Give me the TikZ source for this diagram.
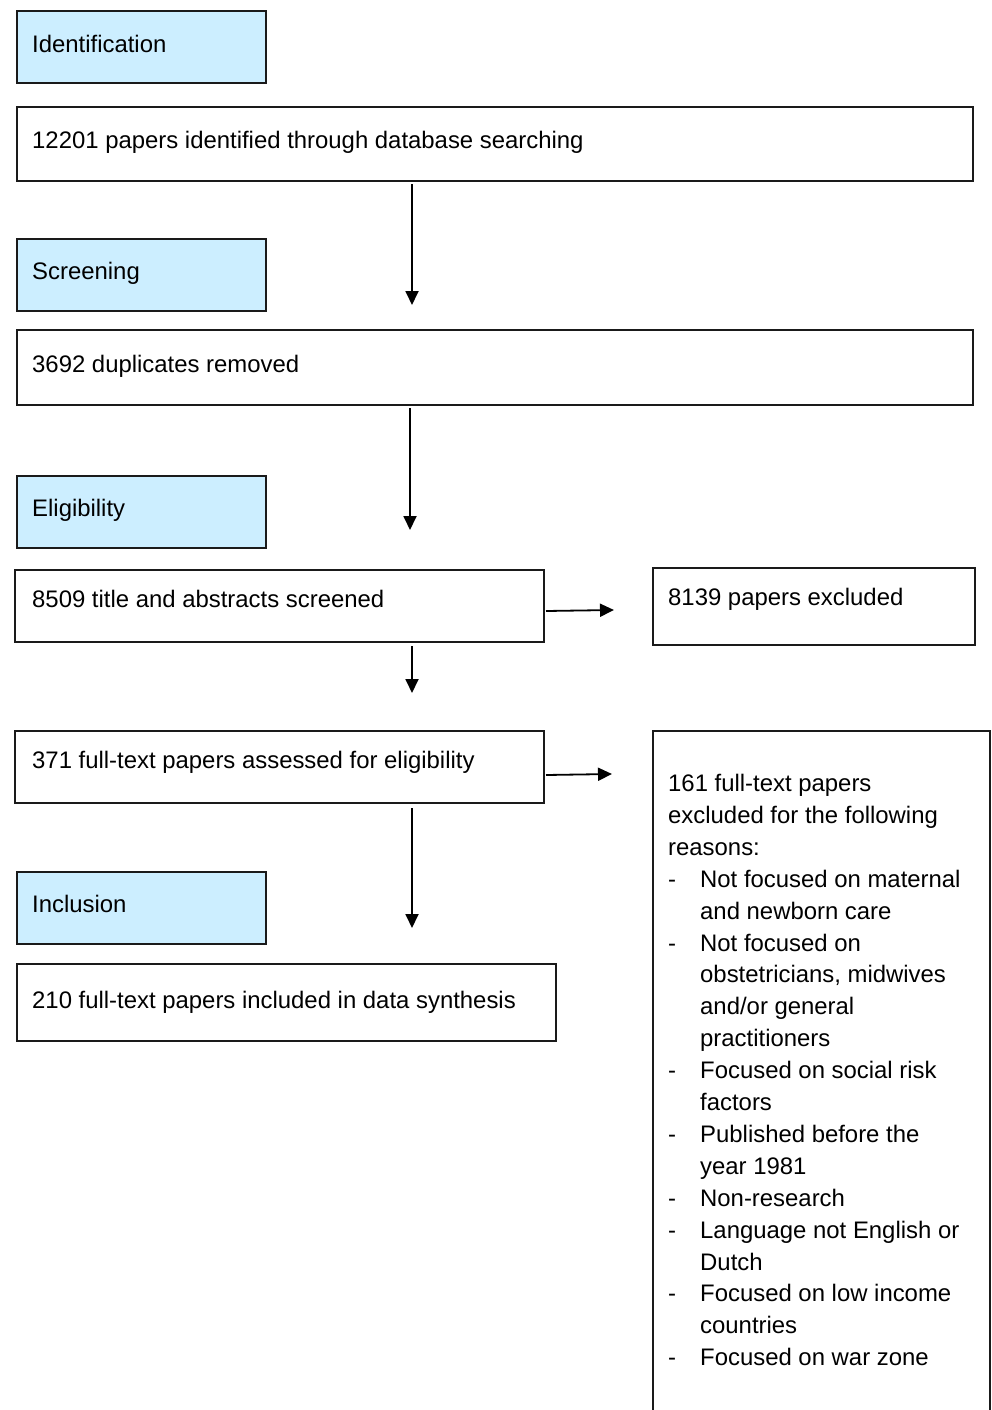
\documentclass[tikz,border=0pt]{standalone}
\usepackage{fontspec}
\setmainfont{Liberation Sans}
\usetikzlibrary{arrows.meta}
\definecolor{stagefill}{HTML}{CCEEFF}
\definecolor{edge}{HTML}{1A1A1A}
\tikzset{
  box/.style={draw=edge, line width=1.7pt, rectangle, inner sep=0pt, anchor=north west},
  stagebox/.style={box, fill=stagefill},
  txt/.style={anchor=base west, inner sep=0pt, font=\fontsize{23.9}{31.9}\selectfont, text=black},
  conn/.style={draw=black, line width=1.8pt, -{Triangle[length=14pt,width=13pt]}},
}
\newcommand{\dashitem}[1]{\makebox[32pt][l]{-}#1}
\newcommand{\contitem}[1]{\hspace*{32pt}#1}
\begin{document}
\begin{tikzpicture}[x=1pt,y=-1pt]
\useasboundingbox (0,0) rectangle (992,1410);
\clip (0,0) rectangle (992,1410);
% stage boxes
\node[stagebox, minimum width=249pt, minimum height=72pt] (ident) at (16,10) {};
\node[txt] (identT) at (32,53) {Identification};
\node[stagebox, minimum width=249pt, minimum height=72pt] (screen) at (16,238) {};
\node[txt] (screenT) at (32,279) {Screening};
\node[stagebox, minimum width=249pt, minimum height=72pt] (elig) at (16,475) {};
\node[txt] (eligT) at (32,516) {Eligibility};
\node[stagebox, minimum width=249pt, minimum height=72pt] (incl) at (16,871) {};
\node[txt] (inclT) at (32,912) {Inclusion};
% flow boxes
\node[box, minimum width=956pt, minimum height=74pt] (b1) at (16,106) {};
\node[txt] (b1T) at (32,149) {12201 papers identified through database searching};
\node[box, minimum width=956pt, minimum height=75pt] (b2) at (16,329) {};
\node[txt] (b2T) at (32,372) {3692 duplicates removed};
\node[box, minimum width=529pt, minimum height=72pt] (b3) at (14,569) {};
\node[txt] (b3T) at (32,607) {8509 title and abstracts screened};
\node[box, minimum width=322pt, minimum height=77pt] (x1) at (652,567) {};
\node[txt] (x1T) at (668,605) {8139 papers excluded};
\node[box, minimum width=529pt, minimum height=72pt] (b4) at (14,730) {};
\node[txt] (b4T) at (32,768) {371 full-text papers assessed for eligibility};
\node[box, minimum width=337pt, minimum height=700pt] (x2) at (652,730) {};
\node[txt, align=left, anchor=north west] (x2T) at (668,774) {161 full-text papers\\
excluded for the following\\
reasons:\\
\dashitem{Not focused on maternal}\\
\contitem{and newborn care}\\
\dashitem{Not focused on}\\
\contitem{obstetricians, midwives}\\
\contitem{and/or general}\\
\contitem{practitioners}\\
\dashitem{Focused on social risk}\\
\contitem{factors}\\
\dashitem{Published before the}\\
\contitem{year 1981}\\
\dashitem{Non-research}\\
\dashitem{Language not English or}\\
\contitem{Dutch}\\
\dashitem{Focused on low income}\\
\contitem{countries}\\
\dashitem{Focused on war zone}};
\node[box, minimum width=539pt, minimum height=77pt] (b5) at (16,963) {};
\node[txt] (b5T) at (32,1008) {210 full-text papers included in data synthesis};
% connectors
\coordinate (a1s) at (412,184); \coordinate (a1e) at (412,305);
\draw[conn] (a1s) -- (a1e);
\coordinate (a2s) at (410,408); \coordinate (a2e) at (410,530);
\draw[conn] (a2s) -- (a2e);
\coordinate (a3s) at (546,611); \coordinate (a3e) at (614,610);
\draw[conn] (a3s) -- (a3e);
\coordinate (a4s) at (412,646); \coordinate (a4e) at (412,693);
\draw[conn] (a4s) -- (a4e);
\coordinate (a5s) at (546,775); \coordinate (a5e) at (612,774);
\draw[conn] (a5s) -- (a5e);
\coordinate (a6s) at (412,808); \coordinate (a6e) at (412,928);
\draw[conn] (a6s) -- (a6e);
\end{tikzpicture}
\end{document}
